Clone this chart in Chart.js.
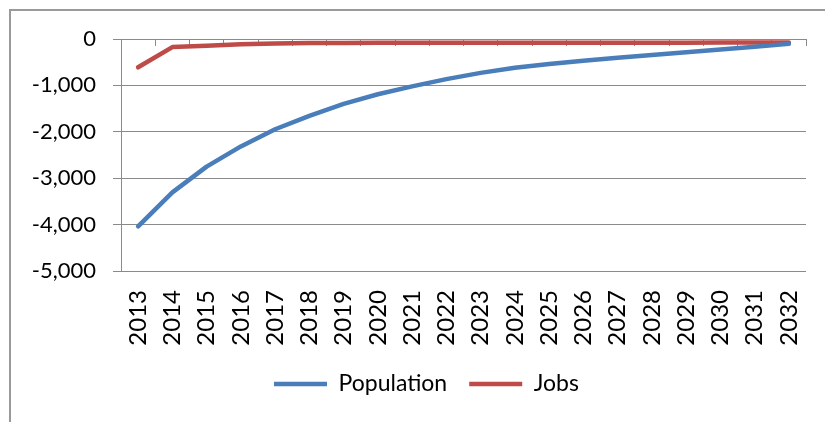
<!DOCTYPE html>
<html>
<head>
<meta charset="utf-8">
<script src="https://cdn.jsdelivr.net/npm/chart.js@4/dist/chart.umd.min.js"></script>
<style>
  html, body { margin: 0; padding: 0; background: #fff; }
  #wrap { position: relative; width: 825px; height: 422px; overflow: hidden; }
  #frame { position: absolute; left: 9px; top: 9px; width: 900px; height: 500px;
           border-left: 2px solid #9a9a9a; border-top: 2px solid #9a9a9a; box-sizing: border-box; }
  canvas { position: absolute; left: 0; top: 0; }
</style>
</head>
<body>
<div id="wrap">
  <div id="frame"></div>
  <canvas id="c" width="825" height="422"></canvas>
</div>
<script>
const years = ['2013','2014','2015','2016','2017','2018','2019','2020','2021','2022',
               '2023','2024','2025','2026','2027','2028','2029','2030','2031','2032'];
const population = [-4040, -3305, -2750, -2315, -1945, -1655, -1400, -1190, -1020, -865,
                    -730, -620, -540, -470, -405, -345, -285, -225, -165, -105];
const jobs = [-610, -175, -145, -115, -95, -88, -85, -82, -80, -80,
              -82, -82, -82, -82, -82, -80, -80, -78, -76, -75];
const yTicks = [0, -1000, -2000, -3000, -4000, -5000];

const FONT = 'Lato, "Liberation Sans", sans-serif';
const LEGEND_SIZE = 23;

const legendPos = {
  id: 'legendPos',
  afterLayout(chart) {
    const lg = chart.legend;
    if (!lg) return;
    const pad = lg.options.labels.padding;
    lg.left = 274 - pad;
    lg.top = 384 - pad - LEGEND_SIZE / 2;
  }
};

function noSidePad(s) { s.paddingLeft = 0; s.paddingRight = 0; }

new Chart(document.getElementById('c'), {
  type: 'line',
  data: {
    labels: years,
    datasets: [
      { label: 'Population', data: population, borderColor: '#4A7EBB', backgroundColor: '#4A7EBB',
        borderWidth: 4.5, pointRadius: 0, tension: 0, borderCapStyle: 'round', borderJoinStyle: 'round' },
      { label: 'Jobs', data: jobs, borderColor: '#BE4B48', backgroundColor: '#BE4B48',
        borderWidth: 4.5, pointRadius: 0, tension: 0, borderCapStyle: 'round', borderJoinStyle: 'round' }
    ]
  },
  options: {
    responsive: false,
    animation: false,
    events: [],
    layout: { padding: { left: 0, right: 19, top: 39, bottom: 0 } },
    plugins: {
      legend: {
        position: 'bottom',
        align: 'start',
        labels: {
          usePointStyle: true,
          pointStyle: 'line',
          pointStyleWidth: 53,
          padding: 22,
          color: '#000',
          font: { family: FONT, size: LEGEND_SIZE }
        }
      },
      tooltip: { enabled: false }
    },
    scales: {
      x: {
        type: 'category',
        position: 'bottom',
        offset: true,
        grid: { display: false, drawTicks: false },
        border: { display: false },
        ticks: {
          autoSkip: false, minRotation: 90, maxRotation: 90, padding: 19,
          color: '#000', font: { family: FONT, size: 24 }
        },
        afterFit(s) {
          noSidePad(s);
          const lg = s.chart.legend;
          s.height = 151 - (lg ? lg.height : 0);
        }
      },
      x2: {
        type: 'category',
        axis: 'x',
        position: { y: 0 },
        offset: true,
        grid: { offset: true, drawOnChartArea: false, drawTicks: true, tickLength: 7, color: '#8a8a8a', lineWidth: 1 },
        border: { display: false },
        ticks: { display: false },
        afterFit: noSidePad
      },
      y: {
        min: -5000,
        max: 0,
        afterBuildTicks(s) { s.ticks = yTicks.map(v => ({ value: v })); },
        grid: { color: '#8a8a8a', lineWidth: 1, tickLength: 8, drawTicks: true },
        border: { display: true, color: '#8a8a8a', width: 1 },
        ticks: {
          padding: 17, color: '#000', font: { family: FONT, size: 22 },
          callback: v => Number(v).toLocaleString('en-US')
        },
        afterFit(s) { s.width = 121; }
      }
    }
  },
  plugins: [legendPos]
});
</script>
</body>
</html>
